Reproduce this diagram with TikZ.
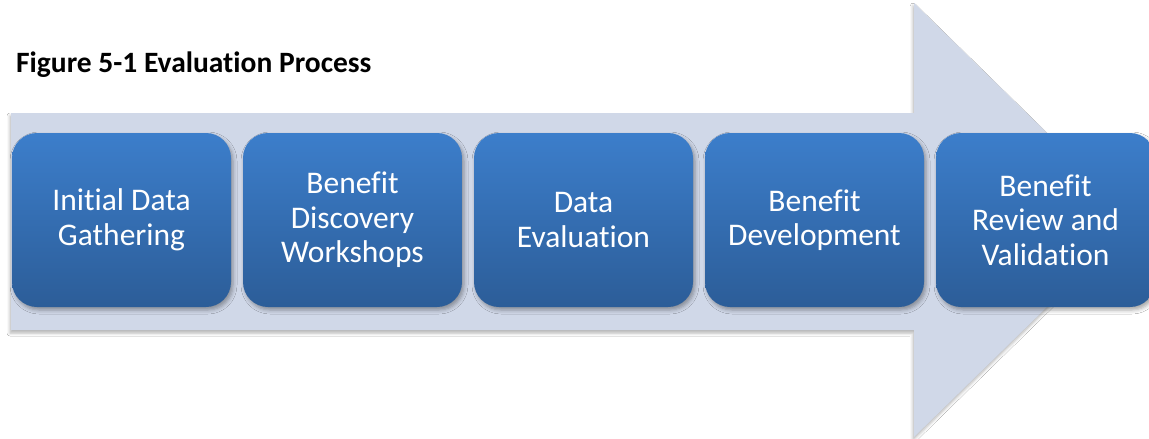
\documentclass[tikz,border=0pt]{standalone}
\usepackage{fontspec}
\setmainfont[Ligatures=NoCommon]{Carlito}
\usetikzlibrary{shadows.blur}
\definecolor{arrowfill}{RGB}{208,216,232}
\definecolor{boxtop}{RGB}{60,126,203}
\definecolor{boxbot}{RGB}{44,93,152}
\begin{document}
\begin{tikzpicture}[x=1pt,y=-1pt,
  stepbox/.style={rounded corners=25pt, minimum width=219pt, minimum height=174pt,
    top color=boxtop, bottom color=boxbot, text=white, align=center,
    font=\fontsize{31.5}{34.5}\selectfont, inner sep=0pt, draw=none,
    blur shadow={shadow xshift=2pt, shadow yshift=-3pt, shadow opacity=35, shadow blur radius=4pt}},
  bigarrow/.style={fill=arrowfill,
    blur shadow={shadow xshift=-1pt, shadow yshift=-3pt, shadow opacity=30, shadow blur radius=3pt}}]
\useasboundingbox (0,0) rectangle (1149,439);
\clip (0,0) rectangle (1149,439);
\fill[white] (0,0) rectangle (1149,439);
\path[bigarrow] (11,113) -- (914,113) -- (914,3) -- (1136,220) -- (914,437) -- (914,330) -- (11,330) -- cycle;
\node[anchor=base west, font=\bfseries\fontsize{29.5}{34}\selectfont, inner sep=0pt] (title) at (16,72) {Figure 5-1 Evaluation Process};
\node[stepbox] (s1) at (121.5,220) {Initial Data\\Gathering};
\node[stepbox] (s2) at (352.5,220) {Benefit\\Discovery\\Workshops};
\node[stepbox] (s3) at (583.5,220) {Data\\Evaluation};
\node[stepbox] (s4) at (814.5,220) {Benefit\\Development};
\node[stepbox] (s5) at (1045.5,220) {Benefit\\Review and\\Validation};
\end{tikzpicture}
\end{document}
